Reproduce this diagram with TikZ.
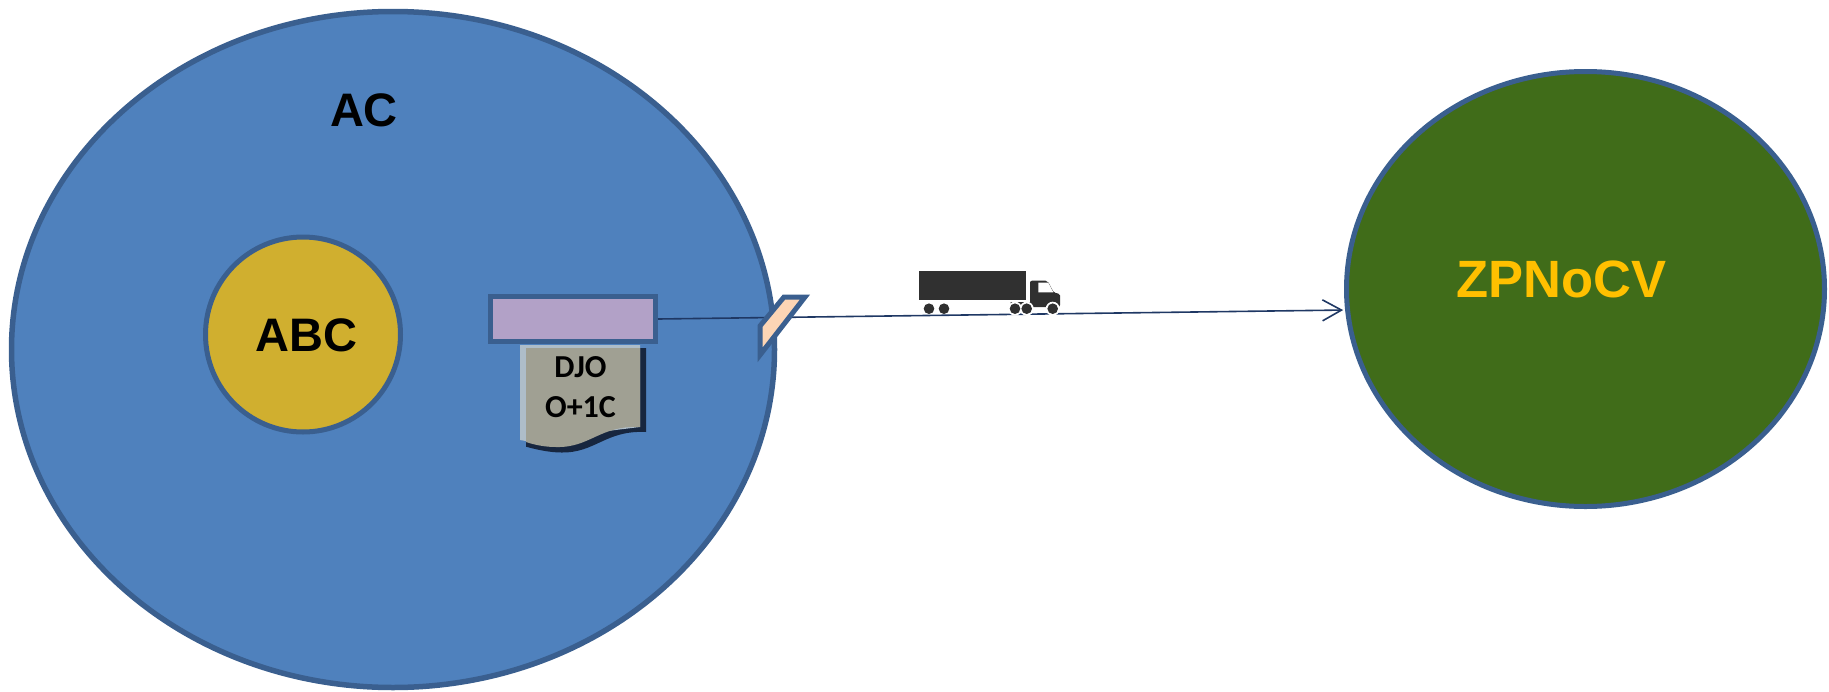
\documentclass[tikz,border=0pt]{standalone}
\usepackage{fontspec}
\setmainfont{Liberation Sans}
\newfontfamily\docfont{Carlito}
\usepackage{xcolor}
\usetikzlibrary{shapes.geometric}
\usetikzlibrary{arrows.meta}
\definecolor{edgeblue}{HTML}{3A5F8F}
\definecolor{acblue}{HTML}{4F81BD}
\definecolor{abcgold}{HTML}{D0AF2F}
\definecolor{zpgreen}{HTML}{406C19}
\definecolor{zpyellow}{HTML}{FFC000}
\definecolor{bufpurple}{HTML}{B2A1C7}
\definecolor{gatepeach}{HTML}{FCD5B5}
\definecolor{docgrey}{HTML}{A0A093}
\definecolor{docrim}{HTML}{AEBDC9}
\definecolor{docshade}{HTML}{17263F}
\definecolor{linknavy}{HTML}{1F3864}
\definecolor{truckgrey}{HTML}{303030}

\begin{document}
\begin{tikzpicture}[x=1pt, y=-1pt,
		region/.style = {ellipse, draw = edgeblue, line width = 5pt, inner sep = 0pt},
		biglabel/.style = {font = \fontsize{47}{50}\selectfont\bfseries, inner sep = 0pt}]
		\useasboundingbox (0,0) rectangle (1829,691);
		\node[region, fill = acblue, line width = 5.5pt, minimum width = 763pt, minimum height = 676pt] (AC) at (393,349.5) {};
		\node[region, fill = zpgreen, minimum width = 478pt, minimum height = 435pt] (ZP) at (1585.5,289) {};
		\node[circle, draw = edgeblue, line width = 5pt, fill = abcgold, minimum size = 195pt, inner sep = 0pt] (ABC) at (303,334.5) {};
		\node[biglabel] (AClabel) at (364,110.5) {AC};
		\node[biglabel] (ABClabel) at (306.5,335.5) {ABC};
		\node[biglabel, text = zpyellow, font = \fontsize{52.5}{55}\selectfont\bfseries] (ZPlabel) at (1561.5,279) {ZPNoCV};
		\node[draw = edgeblue, line width = 5pt, fill = bufpurple, minimum width = 165pt, minimum height = 45pt, inner sep = 0pt] (buffer) at (573,319) {};
		% document below the buffer
		\fill[docshade] (526,348) -- (646,348) -- (646,432) .. controls (605.5,430) and (595.5,453) .. (561.5,452.5) .. controls (550.5,452.5) and (538,450) .. (526,446.7) -- cycle;
		\fill[docrim] (520,345) -- (640,345) -- (640,427) -- (526,441) -- (520,440) -- cycle;
		\fill[docgrey] (526,348) -- (640,348) -- (640,427) .. controls (600,425) and (590,448) .. (556,447) .. controls (545,447) and (535,445) .. (526,442) -- cycle;
		\node[font = \docfont\fontsize{32}{40}\selectfont\bfseries, align = center, inner sep = 0pt] (doclabel) at (580.5,387) {DJO\\O+1C};
		% link to the other region
		\draw[linknavy, line width = 1.6pt, shorten > = 2pt, -{Straight Barb[length = 19pt, width = 21pt]}] (buffer.east) -- (ZP.185.5);
		\draw[edgeblue, line width = 5pt, fill = gatepeach, miter limit = 10] (784,297) -- (805,297) -- (760,355) -- (760,326) -- cycle;
		% truck above the link
		\fill[truckgrey] (919.3,271) rectangle (1026,300);
		\fill[truckgrey] (1010.7,302) -- (1030,302) -- (1030,283) [rounded corners = 2pt] -- (1030,280.7) -- (1047.5,280.7) -- (1054,293) -- (1060,293.5) -- (1060,307) -- (1030,307) [sharp corners] -- (1010.7,304.5) -- cycle;
		\fill[white] (1038.3,282.7) -- (1048.3,282.7) -- (1053.3,292.3) -- (1038.3,292.3) -- cycle;
		\foreach \wheelx in {1015,1026.7,1052.7}
			\fill[white] (\wheelx,308.7) circle (7pt);
		\foreach \wheelx in {929,944,1015,1026.7,1052.7}
			\fill[truckgrey] (\wheelx,308.7) circle (5.3pt);
	\end{tikzpicture}
\end{document}
